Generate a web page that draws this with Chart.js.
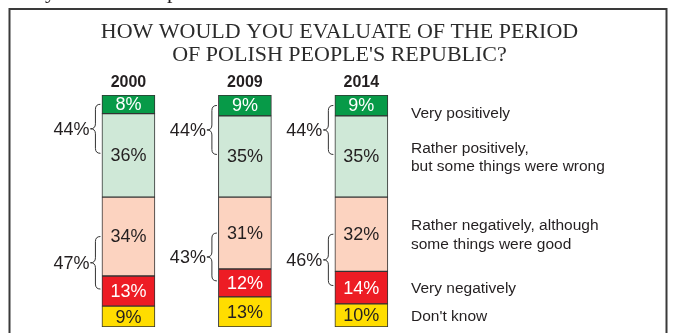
<!DOCTYPE html>
<html>
<head>
<meta charset="utf-8">
<script src="https://cdn.jsdelivr.net/npm/chart.js@4"></script>
<style>
  html, body { margin: 0; padding: 0; background: #fff; }
  canvas { display: block; }
</style>
</head>
<body>
<canvas id="prlChart" width="675" height="333"></canvas>
<script>
// survey years (x axis ticks)
var years = ['2000', '2009', '2014'];

// answers, % of respondents
var veryPositively = [8, 9, 9];
var ratherPositively = [36, 35, 35];
var ratherNegatively = [34, 31, 32];
var veryNegatively = [13, 12, 14];
var dontKnow = [9, 13, 10];

var titleLines = ['HOW WOULD YOU EVALUATE OF THE PERIOD', "OF POLISH PEOPLE'S REPUBLIC?"];

var INK = '#231f20';
var SANS = '"Liberation Sans", Arial, sans-serif';
var SERIF = '"Liberation Serif", "Times New Roman", serif';

// stacked from the bottom up
var datasets = [
  { label: ["Don't know"], data: dontKnow, backgroundColor: '#ffdd00', textColor: INK },
  { label: ['Very negatively'], data: veryNegatively, backgroundColor: '#ed1c24', textColor: '#ffffff' },
  { label: ['Rather negatively, although', 'some things were good'], data: ratherNegatively, backgroundColor: '#fcd3c0', textColor: INK },
  { label: ['Rather positively,', 'but some things were wrong'], data: ratherPositively, backgroundColor: '#cfe8d7', textColor: INK },
  { label: ['Very positively'], data: veryPositively, backgroundColor: '#079a48', textColor: '#ffffff' }
];

function drawBrace(ctx, xr, y1, y2) {
  var xs = xr - 5, xt = xr - 10, ym = (y1 + y2) / 2, r = 5;
  ctx.beginPath();
  ctx.moveTo(xr, y1);
  ctx.quadraticCurveTo(xs, y1, xs, y1 + r);
  ctx.lineTo(xs, ym - r);
  ctx.quadraticCurveTo(xs, ym, xt, ym);
  ctx.quadraticCurveTo(xs, ym, xs, ym + r);
  ctx.lineTo(xs, y2 - r);
  ctx.quadraticCurveTo(xs, y2, xr, y2);
  ctx.stroke();
  return { x: xt, y: ym };
}

var decorPlugin = {
  id: 'decor',
  beforeDraw: function (chart) {
    var ctx = chart.ctx;
    ctx.save();
    ctx.fillStyle = '#fff';
    ctx.fillRect(0, 0, chart.width, chart.height);

    // frame
    ctx.strokeStyle = '#3a3a3a';
    ctx.lineWidth = 2;
    ctx.beginPath();
    ctx.moveTo(9.5, chart.height + 5);
    ctx.lineTo(9.5, 9);
    ctx.lineTo(666.5, 9);
    ctx.lineTo(666.5, chart.height + 5);
    ctx.stroke();

    // tail of the text line above the frame
    ctx.fillStyle = INK;
    ctx.font = '22px ' + SERIF;
    ctx.textBaseline = 'alphabetic';
    ctx.fillText('y', 45, -2);
    ctx.fillText('p', 167, -2);

    // title, slightly stretched
    ctx.font = '20px ' + SERIF;
    ctx.textAlign = 'center';
    ctx.fillStyle = '#2b2b2b';
    titleLines.forEach(function (line, i) {
      ctx.save();
      ctx.translate(339.5, 38 + i * 23);
      ctx.scale(1.1, 1);
      ctx.fillText(line, 0, 0);
      ctx.restore();
    });
    ctx.restore();
  },
  afterDatasetsDraw: function (chart) {
    var ctx = chart.ctx;
    ctx.save();
    var n = chart.data.datasets.length;

    // values inside the segments
    ctx.font = '18px ' + SANS;
    ctx.textAlign = 'center';
    ctx.textBaseline = 'middle';
    chart.data.datasets.forEach(function (ds, i) {
      chart.getDatasetMeta(i).data.forEach(function (bar, j) {
        ctx.fillStyle = ds.textColor;
        ctx.fillText(ds.data[j] + '%', bar.x, (bar.y + bar.base) / 2 + 1);
      });
    });

    // braces with group totals
    ctx.strokeStyle = '#333';
    ctx.lineWidth = 1;
    var groups = [[n - 1, n - 2], [2, 1]];
    chart.data.labels.forEach(function (lbl, j) {
      groups.forEach(function (g) {
        var a = chart.getDatasetMeta(g[0]).data[j];
        var b = chart.getDatasetMeta(g[1]).data[j];
        var y1 = (a.y + a.base) / 2;
        var y2 = (b.y + b.base) / 2 - 2;
        var xr = a.x - a.width / 2 - 1.5;
        var tip = drawBrace(ctx, xr, y1, y2);
        var total = chart.data.datasets[g[0]].data[j] + chart.data.datasets[g[1]].data[j];
        ctx.fillStyle = INK;
        ctx.textAlign = 'right';
        ctx.fillText(total + '%', tip.x - 1, tip.y + 1);
      });
    });

    // category names next to the last bar
    ctx.font = '15.5px ' + SANS;
    ctx.textAlign = 'left';
    ctx.fillStyle = INK;
    var last = chart.data.labels.length - 1;
    chart.data.datasets.forEach(function (ds, i) {
      var bar = chart.getDatasetMeta(i).data[last];
      var cy = (bar.y + bar.base) / 2;
      if (i === n - 1) cy = bar.base - 3;
      var lh = 18.5;
      var y0 = cy - (ds.label.length - 1) * lh / 2;
      ds.label.forEach(function (line, k) {
        ctx.fillText(line, 411, y0 + k * lh + 1);
      });
    });
    ctx.restore();
  }
};

var ctx = document.getElementById('prlChart').getContext('2d');
var prlChart = new Chart(ctx, {
  type: 'bar',
  data: {
    labels: years,
    datasets: datasets.map(function (d) {
      return {
        label: d.label,
        data: d.data,
        backgroundColor: d.backgroundColor,
        textColor: d.textColor,
        borderColor: '#333',
        borderWidth: 1,
        borderSkipped: false,
        barThickness: 53
      };
    })
  },
  options: {
    responsive: false,
    devicePixelRatio: 1,
    animation: false,
    layout: {
      padding: { left: 70.2, right: 255.4, top: 69.8, bottom: 6 }
    },
    plugins: {
      legend: { display: false },
      tooltip: { enabled: false },
      title: { display: false }
    },
    scales: {
      x: {
        stacked: true,
        position: 'top',
        grid: { display: false, drawTicks: false },
        border: { display: false },
        ticks: {
          padding: 3,
          color: INK,
          font: { family: SANS, size: 16, weight: 'bold' }
        }
      },
      y: {
        stacked: true,
        display: false,
        min: 0,
        max: 100
      }
    }
  },
  plugins: [decorPlugin]
});
</script>
</body>
</html>
